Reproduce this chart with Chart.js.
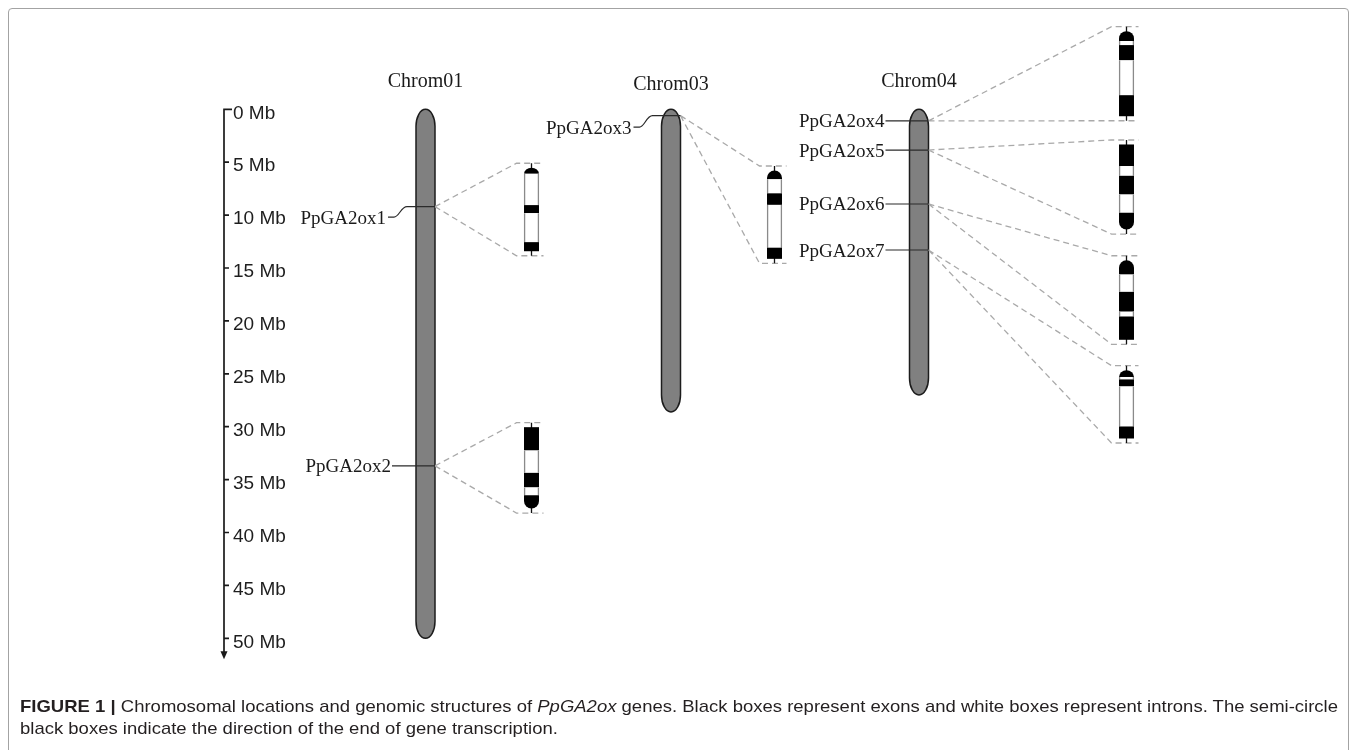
<!DOCTYPE html>
<html>
<head>
<meta charset="utf-8">
<script src="https://cdn.jsdelivr.net/npm/chart.js@4.4.1/dist/chart.umd.min.js"></script>
<style>
  html, body { margin: 0; padding: 0; background: #fff; }
  body { width: 1358px; height: 750px; position: relative; overflow: hidden; }
  #frame {
    position: absolute; left: 8px; top: 8px; width: 1341px; height: 800px;
    border: 1px solid #a3a3a3; border-radius: 4px; box-sizing: border-box;
  }
  #chart { position: absolute; left: 0; top: 0; }
  #caption {
    position: absolute; left: 19.5px; top: 695.5px;
    font-family: "Liberation Sans", Arial, sans-serif; font-size: 17px;
    line-height: 22.5px; color: #231f20; white-space: nowrap;
  }
  #caption .line { transform-origin: 0 0; }
  #caption span { display: inline-block; }
</style>
</head>
<body>
<div id="frame"></div>
<canvas id="chart" width="1358" height="750"></canvas>
<div id="caption">
  <div class="line"><span id="cap1"><b>FIGURE 1 |</b> Chromosomal locations and genomic structures of <i>PpGA2ox</i> genes. Black boxes represent exons and white boxes represent introns. The semi-circle</span></div>
  <div class="line"><span>black boxes indicate the direction of the end of gene transcription.</span></div>
</div>
<script>
// data (Mb)
const chromNames = ["Chrom01", "Chrom03", "Chrom04"];
const chromLengthsMb = [50.0, 28.6, 27.0];
const geneNames = ["PpGA2ox1", "PpGA2ox2", "PpGA2ox3", "PpGA2ox4", "PpGA2ox5", "PpGA2ox6", "PpGA2ox7"];
const geneChrom = [0, 0, 1, 2, 2, 2, 2];
const genePositionsMb = [9.2, 33.7, 0.6, 1.1, 3.85, 8.95, 13.3];
const yTickValues = [0, 5, 10, 15, 20, 25, 30, 35, 40, 45, 50];

// gene structures, top to bottom: exon, intron, exon, intron, exon (relative lengths)
const structGA2ox1 = [6, 31, 8, 28.7, 9];
const structGA2ox2 = [24, 23, 15, 8, 13.7];
const structGA2ox3 = [8.4, 13.3, 11, 40.7, 10.6];
const structGA2ox4 = [9.7, 4, 15, 34.3, 20.7];
const structGA2ox5 = [21.6, 9.7, 18.7, 18.3, 16.7];
const structGA2ox6 = [15, 18, 20.7, 5, 24.3];
const structGA2ox7 = [7, 2.5, 7.2, 41, 12.3];
const structures = [structGA2ox1, structGA2ox2, structGA2ox3, structGA2ox4, structGA2ox5, structGA2ox6, structGA2ox7];
// which end carries the semi-circle (end of transcription)
const capAtTop = [true, false, true, true, false, true, true];

// layout (x in scale units, structure spans in y-scale units)
const chromX = [201.5, 447, 695];
const structX = [307.5, 307.5, 550.5, 902.5, 902.5, 902.5, 902.5];
const structSpan = [[5.1, 13.84], [29.62, 38.16], [5.36, 14.56], [-7.81, 1.08], [2.9, 11.79], [13.84, 22.21], [24.23, 31.54]];
const labelDrop = [11, 0, 12, 0, 0, 0, 0];
const chromLabelDrop = [0, 3, 0];

const BAR_W = 19;
const STRUCT_W = 15;
const CAP_RY = 17;

function drawStructure(ctx, cx, yTop, yBot, lengths, capTop) {
  const half = STRUCT_W / 2;
  const stem = 4.5;
  const bodyTop = yTop + stem;
  const bodyBot = yBot - stem;
  const total = lengths.reduce((a, b) => a + b, 0);
  const k = (bodyBot - bodyTop) / total;

  // stems
  ctx.setLineDash([]);
  ctx.strokeStyle = "#111";
  ctx.lineWidth = 1.3;
  ctx.beginPath();
  ctx.moveTo(cx, yTop); ctx.lineTo(cx, bodyTop + 1);
  ctx.moveTo(cx, bodyBot - 1); ctx.lineTo(cx, yBot);
  ctx.stroke();

  let cur = bodyTop;
  lengths.forEach((len, i) => {
    const s0 = cur;
    const s1 = cur + len * k;
    cur = s1;
    if (i % 2 === 1) {
      ctx.fillStyle = "#fff";
      ctx.fillRect(cx - half, s0, STRUCT_W, s1 - s0);
      ctx.strokeStyle = "#8a8a8a";
      ctx.lineWidth = 1.3;
      ctx.beginPath();
      ctx.moveTo(cx - half + 0.6, s0); ctx.lineTo(cx - half + 0.6, s1);
      ctx.moveTo(cx + half - 0.6, s0); ctx.lineTo(cx + half - 0.6, s1);
      ctx.stroke();
      return;
    }
    ctx.fillStyle = "#000";
    const isCap = (capTop && i === 0) || (!capTop && i === lengths.length - 1);
    if (!isCap) {
      ctx.fillRect(cx - half, s0, STRUCT_W, s1 - s0);
      return;
    }
    const r = Math.min(half, s1 - s0);
    ctx.beginPath();
    if (capTop) {
      ctx.moveTo(cx - half, s1);
      ctx.lineTo(cx - half, s0 + r);
      ctx.ellipse(cx, s0 + r, half, r, 0, Math.PI, 2 * Math.PI);
      ctx.lineTo(cx + half, s1);
    } else {
      ctx.moveTo(cx - half, s0);
      ctx.lineTo(cx + half, s0);
      ctx.lineTo(cx + half, s1 - r);
      ctx.ellipse(cx, s1 - r, half, r, 0, 0, Math.PI);
      ctx.lineTo(cx - half, s0);
    }
    ctx.closePath();
    ctx.fill();
  });
}

const figurePlugin = {
  id: "figure",
  afterDatasetsDraw(chart) {
    const { ctx, chartArea } = chart;
    const x = chart.scales.x;
    const y = chart.scales.y;
    const x0 = chartArea.left;
    ctx.save();

    // chromosomes: capsule shapes on the bar elements' geometry
    chart.getDatasetMeta(0).data.forEach((bar) => {
      const p = bar.getProps(["x", "y", "base", "width"], true);
      const top = Math.min(p.y, p.base);
      const bottom = Math.max(p.y, p.base);
      const hw = p.width / 2;
      ctx.beginPath();
      ctx.moveTo(p.x - hw, top + CAP_RY);
      ctx.ellipse(p.x, top + CAP_RY, hw, CAP_RY, 0, Math.PI, 2 * Math.PI);
      ctx.lineTo(p.x + hw, bottom - CAP_RY);
      ctx.ellipse(p.x, bottom - CAP_RY, hw, CAP_RY, 0, 0, Math.PI);
      ctx.closePath();
      ctx.fillStyle = "#808080";
      ctx.fill();
      ctx.strokeStyle = "#1c1c1c";
      ctx.lineWidth = 1.5;
      ctx.stroke();
    });

    // Mb axis with arrow
    const axisTop = y.getPixelForValue(yTickValues[0]);
    const tip = y.getPixelForValue(yTickValues[yTickValues.length - 1]) + 21;
    ctx.strokeStyle = "#1a1a1a";
    ctx.fillStyle = "#1a1a1a";
    ctx.lineWidth = 1.7;
    ctx.beginPath();
    ctx.moveTo(x0, axisTop);
    ctx.lineTo(x0, tip - 5);
    yTickValues.forEach((v, i) => {
      const py = y.getPixelForValue(v);
      ctx.moveTo(x0 - 0.8, py);
      ctx.lineTo(x0 + (i === 0 ? 8 : 5), py);
    });
    ctx.stroke();
    ctx.beginPath();
    ctx.moveTo(x0 - 3.5, tip - 8);
    ctx.lineTo(x0, tip);
    ctx.lineTo(x0 + 3.5, tip - 8);
    ctx.closePath();
    ctx.fill();

    // chromosome names
    ctx.font = '20px "Liberation Serif", "Times New Roman", serif';
    ctx.fillStyle = "#1a1a1a";
    ctx.textAlign = "center";
    ctx.textBaseline = "alphabetic";
    chromNames.forEach((name, i) => {
      ctx.fillText(name, x.getPixelForValue(chromX[i]), y.getPixelForValue(0) - 22 + chromLabelDrop[i]);
    });

    // dashed zoom lines + gene structures
    geneNames.forEach((name, g) => {
      const c = geneChrom[g];
      const gx = x.getPixelForValue(chromX[c]) + BAR_W / 2;
      const gy = y.getPixelForValue(genePositionsMb[g]);
      const sx = x.getPixelForValue(structX[g]);
      const yTop = y.getPixelForValue(structSpan[g][0]);
      const yBot = y.getPixelForValue(structSpan[g][1]);
      ctx.setLineDash([6, 4]);
      ctx.strokeStyle = "#a9a9a9";
      ctx.lineWidth = 1.3;
      ctx.beginPath();
      ctx.moveTo(gx, gy); ctx.lineTo(sx - 15, yTop); ctx.lineTo(sx + 12, yTop);
      ctx.moveTo(gx, gy); ctx.lineTo(sx - 15, yBot); ctx.lineTo(sx + 12, yBot);
      ctx.stroke();
      drawStructure(ctx, sx, yTop, yBot, structures[g], capAtTop[g]);
    });

    // gene labels with leader lines
    ctx.setLineDash([]);
    ctx.font = '19px "Liberation Serif", "Times New Roman", serif';
    ctx.textAlign = "right";
    geneNames.forEach((name, g) => {
      const c = geneChrom[g];
      const cx = x.getPixelForValue(chromX[c]);
      const gy = y.getPixelForValue(genePositionsMb[g]);
      const bent = labelDrop[g] > 0;
      const labelRight = cx - (bent ? 39.5 : 34.5);
      ctx.fillStyle = "#1a1a1a";
      ctx.fillText(name, labelRight, gy + 6.5 + labelDrop[g]);
      ctx.strokeStyle = "#2a2a2a";
      ctx.lineWidth = 1.2;
      ctx.beginPath();
      if (bent) {
        const ly = gy + labelDrop[g] - 0.5;
        ctx.moveTo(labelRight + 2, ly);
        ctx.lineTo(labelRight + 8, ly);
        ctx.bezierCurveTo(labelRight + 13, ly, labelRight + 15, gy, labelRight + 21, gy);
      } else {
        ctx.moveTo(labelRight + 1, gy);
      }
      ctx.lineTo(cx + BAR_W / 2, gy);
      ctx.stroke();
    });

    ctx.restore();
  },
};

new Chart(document.getElementById("chart"), {
  type: "bar",
  data: {
    datasets: [
      {
        label: "Chromosomes",
        data: chromNames.map((name, i) => ({ x: chromX[i], y: [0, chromLengthsMb[i]] })),
        backgroundColor: "rgba(0,0,0,0)",
        borderWidth: 0,
        barThickness: BAR_W,
      },
    ],
  },
  options: {
    responsive: false,
    devicePixelRatio: 1,
    animation: false,
    layout: { padding: { left: 224, right: 8, top: 109.3, bottom: 111.7 } },
    plugins: { legend: { display: false }, tooltip: { enabled: false } },
    scales: {
      x: { type: "linear", display: false, min: 0, max: 1126, offset: false },
      y: {
        type: "linear",
        reverse: true,
        min: 0,
        max: 50,
        afterBuildTicks: (axis) => {
          axis.ticks = yTickValues.map((v) => ({ value: v }));
        },
        afterFit: (axis) => {
          axis.width = 0;
        },
        grid: { display: false, drawTicks: false },
        border: { display: false },
        ticks: {
          mirror: true,
          padding: 9,
          labelOffset: 4,
          color: "#1e1e1e",
          font: { family: '"Liberation Sans", Arial, sans-serif', size: 19 },
          callback: (v) => `${v} Mb`,
        },
      },
    },
  },
  plugins: [figurePlugin],
});

// fit caption line to the figure width
const cap1 = document.getElementById("cap1");
const scaleX = 1318 / cap1.getBoundingClientRect().width;
document.querySelectorAll("#caption .line").forEach((el) => {
  el.style.transform = `scaleX(${scaleX})`;
});
</script>
</body>
</html>
